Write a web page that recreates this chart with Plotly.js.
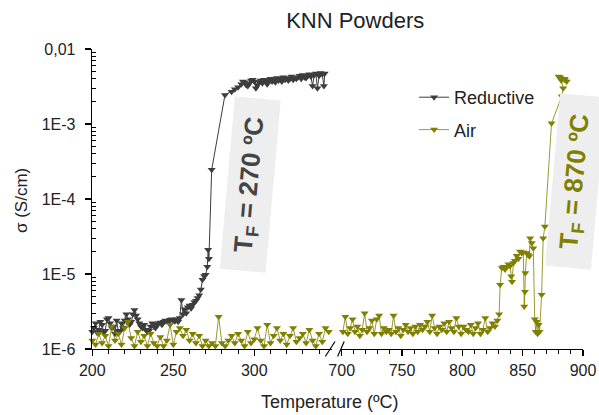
<!DOCTYPE html>
<html>
<head>
<meta charset="utf-8">
<script src="https://cdn.plot.ly/plotly-3.0.1.min.js"></script>
<style>html,body{margin:0;padding:0;background:#fff}#chart{width:599px;height:415px}</style>
</head>
<body>
<div id="chart"></div>
<script>
// ---- Data ----
// Reductive atmosphere, low-temperature axis segment (°C, S/cm)
const redT = [200,201,202,203,204,205,206,207,208,209,210,211,212,213,214,215,216,217,218,219,
  220,221,222,223,224,225,226,227,228,229,230,231,232,233,234,235,236,237,238,239,
  240,241,242,243,244,245,246,247,248,249,250,251,252,253,254,255,256,257,258,259,
  260,261,262,263,264,265,266,267,268,269,270,271,271.5,272,273.7,281.9,
  286,288,290,292,293,294,295,296,297,298,299,300,301,302,303,304,305,306,307,308,309,
  310,311,312,313,314,315,316,317,318,319,320,321,322,323,324,325,326,327,328,329,
  330,331,332,333,334,335,336,337,338,339,340,341,342,343,343.5];
const redS = [1.7e-6,1.9e-6,2.2e-6,1.65e-6,1.8e-6,2.3e-6,2.1e-6,1.7e-6,1.75e-6,2.5e-6,2.6e-6,2.2e-6,1.9e-6,2.0e-6,1.6e-6,2.4e-6,1.75e-6,1.7e-6,2.2e-6,1.9e-6,
  2.4e-6,2.9e-6,2.5e-6,2.1e-6,2.3e-6,2.9e-6,3.3e-6,2.8e-6,2.5e-6,2.2e-6,2.0e-6,1.9e-6,2.1e-6,1.8e-6,1.7e-6,1.75e-6,2.0e-6,2.2e-6,2.0e-6,1.9e-6,
  2.1e-6,2.2e-6,2.25e-6,2.1e-6,2.3e-6,2.4e-6,2.35e-6,2.3e-6,2.45e-6,2.5e-6,2.4e-6,2.35e-6,2.5e-6,2.3e-6,2.6e-6,4.5e-6,2.9e-6,3.4e-6,3.0e-6,3.6e-6,
  3.8e-6,3.5e-6,3.9e-6,4.2e-6,4.4e-6,4.8e-6,5.2e-6,6.2e-6,8.4e-6,9.4e-6,9.8e-6,1.25e-5,2.1e-5,1.6e-5,2.45e-4,2.44e-3,
  2.7e-3,2.9e-3,3.1e-3,3.4e-3,3.7e-3,3.6e-3,3.3e-3,3.2e-3,3.5e-3,3.8e-3,3.9e-3,3.7e-3,3.0e-3,3.3e-3,3.6e-3,3.8e-3,3.5e-3,3.9e-3,3.7e-3,3.4e-3,3.8e-3,
  4.0e-3,3.7e-3,3.9e-3,3.6e-3,4.1e-3,3.8e-3,4.0e-3,3.7e-3,4.2e-3,3.9e-3,4.1e-3,3.8e-3,4.0e-3,4.3e-3,3.9e-3,4.1e-3,4.0e-3,4.2e-3,4.4e-3,4.0e-3,
  4.5e-3,4.2e-3,4.1e-3,4.4e-3,4.6e-3,4.3e-3,3.2e-3,4.5e-3,4.7e-3,3.0e-3,4.4e-3,4.8e-3,4.6e-3,3.2e-3,4.7e-3];

// Air atmosphere, low-temperature axis segment
const airT1 = [200,202,204,206,208,210,212,214,216,218,220,222,224,226,228,230,232,234,236,238,
  240,242,244,246,248,250,252,254,256,258,260,262,264,266,268,270,272,274,276,278,
  280,282,284,286,288,290,292,294,296,298,300,302,304,306,308,310,312,314,316,318,
  320,322,324,326,328,330,332,334,336,338,340,342,344,346];
const airS1 = [1.3e-6,1.15e-6,1.6e-6,1.2e-6,1.5e-6,1.1e-6,2.0e-6,1.3e-6,1.6e-6,1.15e-6,1.9e-6,2.3e-6,1.4e-6,1.1e-6,1.7e-6,1.25e-6,1.5e-6,1.1e-6,1.6e-6,1.2e-6,
  1.1e-6,1.45e-6,1.1e-6,1.3e-6,2.1e-6,1.15e-6,1.7e-6,1.9e-6,1.5e-6,1.8e-6,1.3e-6,1.6e-6,1.2e-6,1.5e-6,1.1e-6,1.3e-6,1.1e-6,1.2e-6,1.1e-6,2.7e-6,
  1.2e-6,1.1e-6,1.3e-6,1.5e-6,1.2e-6,1.6e-6,1.3e-6,1.1e-6,1.7e-6,1.2e-6,1.35e-6,1.9e-6,1.3e-6,1.1e-6,2.1e-6,1.2e-6,1.5e-6,1.9e-6,1.3e-6,1.6e-6,
  1.15e-6,1.5e-6,1.9e-6,1.25e-6,1.4e-6,1.6e-6,1.2e-6,1.8e-6,1.3e-6,1.1e-6,1.6e-6,1.25e-6,1.9e-6,1.7e-6];

// Air atmosphere, high-temperature axis segment
const airT2 = [701,703,705,707,709,711,713,715,717,719,721,723,725,727,729,731,733,735,737,739,
  741,743,745,747,749,751,753,755,757,759,761,763,765,767,769,771,773,775,777,779,
  781,783,785,787,789,791,793,795,797,799,801,803,805,807,809,811,813,815,817,819,
  821,823,825,827,829,830.5,831.3,832.7,834,835.4,836.8,838.2,839.5,840.5,841.2,842.3,843.5,845,846.4,847.8,
  849.2,850.5,851.3,851.9,852.2,853.4,854.5,855.5,856.2,857.5,858.8,860,860.8,861.6,862.4,863.2,864,865.7,867,868.4,
  873.9,882.4,883.6,882,879.7,881.2,884.5,886.5,885];
const airS2 = [1.7e-6,2.7e-6,1.6e-6,1.9e-6,2.5e-6,1.7e-6,2.0e-6,1.5e-6,1.8e-6,3.0e-6,1.7e-6,1.9e-6,2.4e-6,1.6e-6,2.5e-6,2.8e-6,1.6e-6,1.9e-6,1.7e-6,1.8e-6,
  1.6e-6,2.8e-6,1.7e-6,1.9e-6,1.5e-6,1.8e-6,2.1e-6,1.7e-6,1.9e-6,1.6e-6,2.0e-6,1.7e-6,2.1e-6,1.8e-6,2.0e-6,2.3e-6,1.7e-6,2.8e-6,1.9e-6,1.6e-6,
  2.0e-6,1.8e-6,2.2e-6,1.7e-6,2.3e-6,1.9e-6,1.7e-6,2.6e-6,2.0e-6,1.6e-6,2.0e-6,1.8e-6,1.7e-6,2.1e-6,1.6e-6,1.9e-6,2.2e-6,1.6e-6,1.8e-6,2.6e-6,
  1.7e-6,1.9e-6,2.2e-6,2.0e-6,2.4e-6,2.9e-6,7.2e-6,1.2e-5,1.25e-5,1.15e-5,1.25e-5,1.35e-5,1.28e-5,9.3e-6,7.9e-6,1.4e-5,1.5e-5,1.75e-5,1.6e-5,2.0e-5,
  1.9e-5,1.95e-5,3.7e-6,5.8e-6,1.03e-5,1.9e-5,1.8e-5,1.73e-5,3.0e-5,2.6e-5,2.2e-5,2.5e-6,1.7e-6,2.3e-6,1.6e-6,2.1e-6,1.7e-6,5.3e-6,3.0e-5,4.3e-5,
  1.02e-3,2.35e-3,3.0e-3,3.8e-3,4.3e-3,4.2e-3,4.0e-3,3.7e-3,3.9e-3];

// Tick labels
const yTickVals = [1e-6,1e-5,1e-4,1e-3,1e-2];
const yTickText = ['1E-6','1E-5','1E-4','1E-3','0,01'];
const yMinorVals = [2e-6,3e-6,4e-6,5e-6,6e-6,7e-6,8e-6,9e-6,2e-5,3e-5,4e-5,5e-5,6e-5,7e-5,8e-5,9e-5,
  2e-4,3e-4,4e-4,5e-4,6e-4,7e-4,8e-4,9e-4,2e-3,3e-3,4e-3,5e-3,6e-3,7e-3,8e-3,9e-3];

const seriesNames = ['Reductive','Air'];
const titleText = 'KNN Powders';
const xTitle = 'Temperature (ºC)';
const yTitle = 'σ (S/cm)';
const annTexts = ['<b>T<sub>F</sub> = 270 ºC</b>','<b>T<sub>F</sub> = 870 ºC</b>'];

// ---- Styling ----
const FONT = 'Liberation Sans, Arial, sans-serif';
const cRed = '#3d3d3d';
const cAir = '#808000';

const traces = [
  {x: redT, y: redS, xaxis:'x', yaxis:'y', name: seriesNames[0], legendgroup:'r',
   mode:'lines+markers', cliponaxis:false,
   line:{color:cRed, width:1}, marker:{symbol:'triangle-down', size:7, color:cRed}},
  {x: airT1, y: airS1, xaxis:'x', yaxis:'y', name: seriesNames[1], legendgroup:'a',
   mode:'lines+markers', cliponaxis:false,
   line:{color:cAir, width:0.8}, marker:{symbol:'triangle-down', size:7, color:cAir}},
  {x: airT2, y: airS2, xaxis:'x2', yaxis:'y', name: seriesNames[1], legendgroup:'a', showlegend:false,
   mode:'lines+markers', cliponaxis:false,
   line:{color:cAir, width:0.8}, marker:{symbol:'triangle-down', size:7, color:cAir}}
];

const axCommon = {
  showgrid:false, zeroline:false, showline:true, linecolor:'#000', linewidth:1.3,
  ticks:'outside', ticklen:6, tickwidth:1.3, tickcolor:'#000',
  tickfont:{family:FONT, size:16, color:'#222'},
  minor:{ticks:'outside', ticklen:4, tickwidth:1, tickcolor:'#000', dtick:10}
};

const layout = {
  width:599, height:415,
  margin:{l:92, r:16, t:49, b:66, pad:0},
  paper_bgcolor:'#fff', plot_bgcolor:'#fff',
  font:{family:FONT, color:'#222'},
  showlegend:true,
  title:{text:titleText, font:{family:FONT, size:22, color:'#222'},
         x:0.593, xref:'container', xanchor:'center', y:0.951, yref:'container', yanchor:'middle'},
  xaxis: Object.assign({}, axCommon, {domain:[0,0.4888], range:[199.8,348], tickmode:'linear', tick0:0, dtick:50, anchor:'y'}),
  xaxis2: Object.assign({}, axCommon, {domain:[0.5071,1], range:[699.4,900], tickmode:'linear', tick0:0, dtick:50, anchor:'y'}),
  yaxis: {
    type:'log', range:[-6,-2], anchor:'x',
    showgrid:false, zeroline:false, showline:true, linecolor:'#000', linewidth:1.3,
    tickmode:'array', tickvals:yTickVals, ticktext:yTickText,
    ticks:'outside', ticklen:6, tickwidth:1.3, tickcolor:'#000', ticklabelstandoff:6,
    tickfont:{family:FONT, size:16, color:'#222'},
    minor:{tickmode:'array', tickvals:yMinorVals, ticks:'inside', ticklen:4, tickwidth:1, tickcolor:'#000'}
  },
  legend:{x:0.656, y:0.90, xanchor:'left', yanchor:'top', bgcolor:'rgba(0,0,0,0)',
          traceorder:'grouped', tracegroupgap:6,
          font:{family:FONT, size:18, color:'#222'}},
  annotations:[
    {text:annTexts[0], xref:'paper', yref:'paper', x:0.3232, y:0.5467, xanchor:'center', yanchor:'middle',
     showarrow:false, textangle:-85, width:172, height:45, bgcolor:'#eeeeee', borderpad:0,
     font:{family:FONT, size:26, color:'#444'}},
    {text:annTexts[1], xref:'paper', yref:'paper', x:0.9853, y:0.5577, xanchor:'center', yanchor:'middle',
     showarrow:false, textangle:-85, width:172, height:45, bgcolor:'#eeeeee', borderpad:0,
     font:{family:FONT, size:26, color:cAir}},
    {text:xTitle, xref:'paper', yref:'paper', x:0.4847, y:-0.1767, xanchor:'center', yanchor:'middle',
     showarrow:false, font:{family:FONT, size:18, color:'#222'}},
    {text:yTitle, xref:'paper', yref:'paper', x:-0.1446, y:0.4933, xanchor:'center', yanchor:'middle',
     showarrow:false, textangle:-90, font:{family:FONT, size:17, color:'#222'}}
  ],
  shapes:[
    {type:'line', xref:'paper', yref:'paper', x0:0.4752, y0:-0.025, x1:0.4949, y1:0.025, line:{color:'#000', width:1.2}},
    {type:'line', xref:'paper', yref:'paper', x0:0.5002, y0:-0.025, x1:0.5136, y1:0.025, line:{color:'#000', width:1.2}}
  ]
};

Plotly.newPlot('chart', traces, layout, {displayModeBar:false, staticPlot:true});
</script>
</body>
</html>
